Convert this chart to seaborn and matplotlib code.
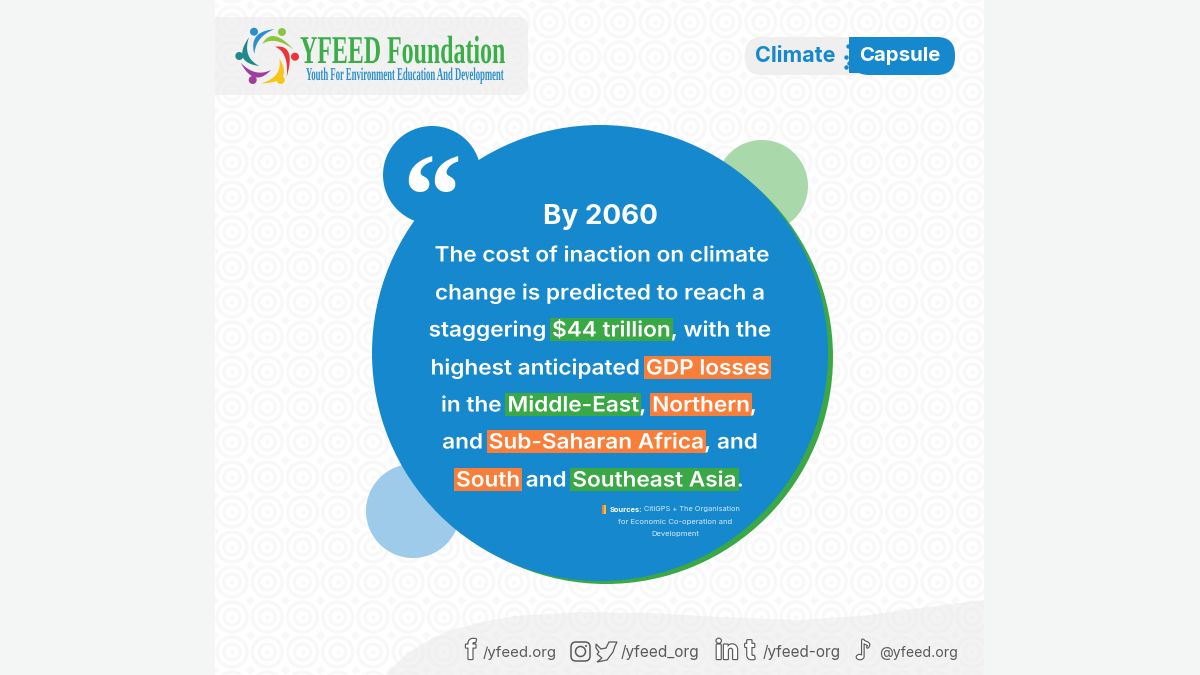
import numpy as np
import matplotlib
matplotlib.use("Agg")
import matplotlib.pyplot as plt
import matplotlib.patheffects as pe
from matplotlib.patches import Circle, FancyBboxPatch, Polygon, Rectangle
from matplotlib.transforms import Affine2D
import seaborn as sns

# -------------------------------------------------------------------
# Content
# -------------------------------------------------------------------

HEADLINE = "By 2060"
# (text, highlight) : "g" green, "o" orange, None no box
BODY_LINES = [
    [("The cost of inaction on climate", None)],
    [("change is predicted to reach a", None)],
    [("staggering ", None), ("$44 trillion", "g"), (", with the", None)],
    [("highest anticipated ", None), ("GDP losses", "o")],
    [("in the ", None), ("Middle-East", "g"), (", ", None), ("Northern", "o"), (",", None)],
    [("and ", None), ("Sub-Saharan Africa", "o"), (", and", None)],
    [("South", "o"), (" and ", None), ("Southeast Asia", "g"), (".", None)],
]
BODY_Y = [255, 293, 330, 368, 405, 442, 480]
BODY_X = [602, 600, 600, 600, 599, 600, 600]
SOURCE_LINES = ["CitiGPS + The Organisation", "for Economic Co-operation and", "Development"]
SOCIAL_LABELS = ["/yfeed.org", "/yfeed_org", "/yfeed-org", "@yfeed.org"]
SOCIAL_X = [483, 621, 763, 879]
SOCIAL_SIZE = [10.8, 11.1, 11, 10.2]

BLUE = "#1688ce"
GREEN = "#3aa845"
ORANGE = "#f97e3a"
HIGHLIGHT = {"g": GREEN, "o": ORANGE}
FONT = "Inter"
BODY_STRETCH = 1.07

sns.set_theme(style="white")
plt.rcParams["font.family"] = [FONT, "DejaVu Sans"]


class Stretch(pe.AbstractPathEffect):
    """Squeeze/stretch a text around its left baseline point."""

    def __init__(self, sx, sy):
        super().__init__()
        self.sx, self.sy = sx, sy

    def draw_path(self, renderer, gc, tpath, affine, rgbFace=None):
        renderer.draw_path(gc, tpath, Affine2D().scale(self.sx, self.sy) + affine, rgbFace)


def text_width(ax, renderer, s, **kw):
    """Advance width of s, trailing spaces included."""
    t1 = ax.text(0, 0, s + "|", **kw)
    t2 = ax.text(0, 0, "|", **kw)
    w = t1.get_window_extent(renderer).width - t2.get_window_extent(renderer).width
    t1.remove()
    t2.remove()
    return w


def bezier(a, mid, b, bulge=1.0, n=24):
    """Quadratic curve from a to b going through mid (scaled by bulge)."""
    a, mid, b = np.array(a), np.array(mid), np.array(b)
    ctrl = (a + b) / 2 + (2 * mid - a - b) * bulge
    t = np.linspace(0, 1, n)[:, None]
    return (1 - t) ** 2 * a + 2 * t * (1 - t) * ctrl + t ** 2 * b


# -------------------------------------------------------------------
# Background
# -------------------------------------------------------------------

def draw_background(ax):
    ax.add_patch(Rectangle((215, 0), 769, 675, fc="white", ec="none", zorder=0))
    panel = Rectangle((215, 0), 769, 675, transform=ax.transData)

    xs, ys = np.meshgrid(np.arange(196.75, 1000, 35.25), np.arange(-13, 700, 35.0))
    xs, ys = xs.ravel(), ys.ravel()
    ring = "#f8f8f8"
    for d, lw in [(30, 2.4), (16, 2.2)]:
        sns.scatterplot(x=xs, y=ys, s=(d * 0.72) ** 2, marker="o", facecolors="none",
                        edgecolor=ring, linewidth=lw, ax=ax, legend=False, zorder=1)
    sns.scatterplot(x=xs, y=ys, s=9, marker="o", color=ring, linewidth=0, ax=ax, legend=False, zorder=1)
    sns.scatterplot(x=xs + 17.6, y=ys + 17.5, s=22, marker="D", color=ring, linewidth=0, ax=ax,
                    legend=False, zorder=1)
    for coll in ax.collections:
        coll.set_clip_path(panel)

    # wave at the bottom
    wave_x = [385, 405, 432, 455, 482, 515, 580, 650, 720, 800, 860, 920, 984]
    wave_y = [675, 655, 638, 629, 622, 616, 612, 613, 617, 620, 616, 608, 600]
    ax.add_patch(Polygon(list(zip(wave_x, wave_y)) + [(984, 675)], fc="#eeeeee",
                         ec="none", alpha=0.7, zorder=2))


def draw_logo(ax):
    box = FancyBboxPatch((190, 17), 338, 78, boxstyle="round,pad=0,rounding_size=9",
                         fc="#eeeeee", ec="none", alpha=0.75, zorder=2)
    ax.add_patch(box)
    box.set_clip_path(Rectangle((215, 0), 400, 120, transform=ax.transData))

    figures = [
        ((254, 31.7), (254.3, 54), (256.7, 36.7), (274.3, 29.3), "#2c8fcb"),
        ((282, 32), (262.3, 44), (275, 36.7), (293.3, 49.3), "#8cc63f"),
        ((295, 56.7), (275, 46.7), (288.3, 53.3), (286.7, 76.7), "#e8343a"),
        ((280.7, 80), (279.3, 58.3), (281.7, 76.7), (261, 83.3), "#f5c518"),
        ((252.7, 80), (271, 70), (255, 76.7), (240.7, 62.7), "#a23c9e"),
        ((239.3, 56), (259.3, 66), (243.3, 56.7), (249, 37.3), "#1f8a8c"),
    ]
    for head, a, mid, b, col in figures:
        outer = bezier(a, mid, b, 1.05)
        inner = bezier(a, mid, b, 0.55)
        ax.add_patch(Polygon(np.r_[outer, inner[::-1]], fc=col, ec="none", zorder=3))
        ax.add_patch(Circle(head, 4, fc=col, ec="none", zorder=3))

    ax.text(300, 63, "YFEED Foundation", color="#3cae49", family="Liberation Serif",
            weight="bold", fontsize=21, ha="left", va="baseline", zorder=4,
            path_effects=[Stretch(0.82, 1.35)])
    ax.text(306, 80, "Youth For Environment Education And Development", color="#2b8ecb",
            family="Liberation Serif", weight="bold", fontsize=10, ha="left", va="baseline",
            zorder=4, path_effects=[Stretch(0.625, 1.3)])


def draw_capsule(ax):
    ax.add_patch(FancyBboxPatch((745, 37), 125, 38, boxstyle="round,pad=0,rounding_size=17",
                                fc="#efefef", ec="none", zorder=2))
    ax.add_patch(FancyBboxPatch((851, 37), 104, 38, boxstyle="round,pad=0,rounding_size=18",
                                fc=BLUE, ec="none", zorder=3))
    ax.add_patch(Rectangle((849, 37), 30, 36, fc=BLUE, ec="none", zorder=3))
    sns.scatterplot(x=[848, 846, 849, 846], y=[46, 57, 63, 67], s=10, color=BLUE, linewidth=0,
                    ax=ax, legend=False, zorder=3)
    ax.text(795, 56, "Climate", color=BLUE, weight="bold", fontsize=15.5, ha="center",
            va="center", zorder=4)
    ax.text(899.5, 56, "Capsule", color="white", weight="bold", fontsize=14.7, ha="center",
            va="center", zorder=4)


# -------------------------------------------------------------------
# Main bubble
# -------------------------------------------------------------------

def draw_bubble(ax):
    ax.add_patch(Circle((762, 186), 46, fc="#a9d8ab", ec="none", zorder=3))
    ax.add_patch(Circle((413, 511), 47, fc="#9dcbe9", ec="none", zorder=3))
    ax.add_patch(Circle((606, 357), 227, fc=GREEN, ec="none", zorder=4))
    ax.add_patch(Circle((600, 353), 228, fc=BLUE, ec="none", zorder=5))
    ax.add_patch(Circle((432, 175), 49, fc=BLUE, ec="none", zorder=5))
    ax.text(432, 206, "\u201c", color="white", family="Liberation Serif", weight="bold",
            fontsize=85, ha="center", va="center", zorder=6)


def draw_body(ax, renderer):
    ax.text(600, 216.5, HEADLINE, color="white", weight="bold", fontsize=20, ha="center",
            va="center", zorder=7)
    kw = dict(weight=600, fontsize=15.2, va="baseline", ha="left")
    stretch = [Stretch(BODY_STRETCH, 1.0)]
    for line, y, xc in zip(BODY_LINES, BODY_Y, BODY_X):
        full = "".join(seg for seg, _ in line)
        x0 = xc - BODY_STRETCH * text_width(ax, renderer, full, **kw) / 2
        done = ""
        for seg, box in line:
            x = x0 + BODY_STRETCH * text_width(ax, renderer, done, **kw) if done else x0
            w = BODY_STRETCH * text_width(ax, renderer, seg, **kw)
            if box:
                ax.add_patch(Rectangle((x - 2, y - 12), w + 4, 23, fc=HIGHLIGHT[box],
                                       ec="none", zorder=6))
            ax.text(x, y + 6.5, seg, color="white", zorder=7, path_effects=stretch, **kw)
            done += seg

    # sources
    ax.add_patch(Rectangle((602, 505), 2, 9, fc=ORANGE, ec="none", zorder=7))
    ax.add_patch(Rectangle((604, 505), 2, 9, fc="#f2c230", ec="none", zorder=7))
    ax.text(610, 509.5, "Sources:", color="white", weight="bold", fontsize=5.4, ha="left",
            va="center", zorder=7)
    ax.text(740, 509.5, SOURCE_LINES[0], color="#d8ecf8", fontsize=5.3, ha="right",
            va="center", zorder=7)
    ax.text(675, 522, SOURCE_LINES[1], color="#d8ecf8", fontsize=5.5, ha="center",
            va="center", zorder=7)
    ax.text(675, 534, SOURCE_LINES[2], color="#d8ecf8", fontsize=5.5, ha="center",
            va="center", zorder=7)


# -------------------------------------------------------------------
# Footer
# -------------------------------------------------------------------

def draw_footer(ax):
    col = "#5a5a5a"
    for label, x, fs in zip(SOCIAL_LABELS, SOCIAL_X, SOCIAL_SIZE):
        ax.text(x, 652.5, label, color=col, fontsize=fs, ha="left", va="center", zorder=4)

    outline = [pe.withStroke(linewidth=1.7, foreground=col)]
    for s, x, fs in [("f", 471, 19), ("in", 727, 19), ("t", 750, 20)]:
        ax.text(x, 652, s, color="white", weight="bold", fontsize=fs, ha="center", va="center",
                zorder=4, path_effects=outline)
    ax.text(863, 652, "\u266a", color="white", family="DejaVu Sans", weight="bold", fontsize=19,
            ha="center", va="center", zorder=4, path_effects=outline)

    # instagram
    ax.add_patch(FancyBboxPatch((571, 642), 19, 19, boxstyle="round,pad=0,rounding_size=5",
                                fc="none", ec=col, lw=1.1, zorder=4))
    ax.add_patch(Circle((580.5, 651.5), 5, fc="none", ec=col, lw=1.1, zorder=4))
    ax.add_patch(Circle((586, 646), 1, fc=col, ec="none", zorder=4))

    # twitter bird
    bird = [(596, 644), (601, 649), (606, 648), (609, 642), (613, 642), (617, 642), (615, 646),
            (613, 652), (607, 660), (597, 662), (602, 658), (597, 654), (599, 652), (596, 648)]
    ax.add_patch(Polygon(bird, fc="none", ec=col, lw=0.9, zorder=4))


def main():
    fig = plt.figure(figsize=(12, 6.75), dpi=100, facecolor="#f4f6f6")
    ax = fig.add_axes([0, 0, 1, 1])
    ax.set_facecolor("#f4f6f6")
    ax.axis("off")
    renderer = fig.canvas.get_renderer()

    draw_background(ax)
    draw_logo(ax)
    draw_capsule(ax)
    draw_bubble(ax)
    draw_body(ax, renderer)
    draw_footer(ax)

    ax.set_xlim(0, 1200)
    ax.set_ylim(675, 0)
    fig.savefig("out.png", dpi=100, facecolor=fig.get_facecolor())


if __name__ == "__main__":
    main()
